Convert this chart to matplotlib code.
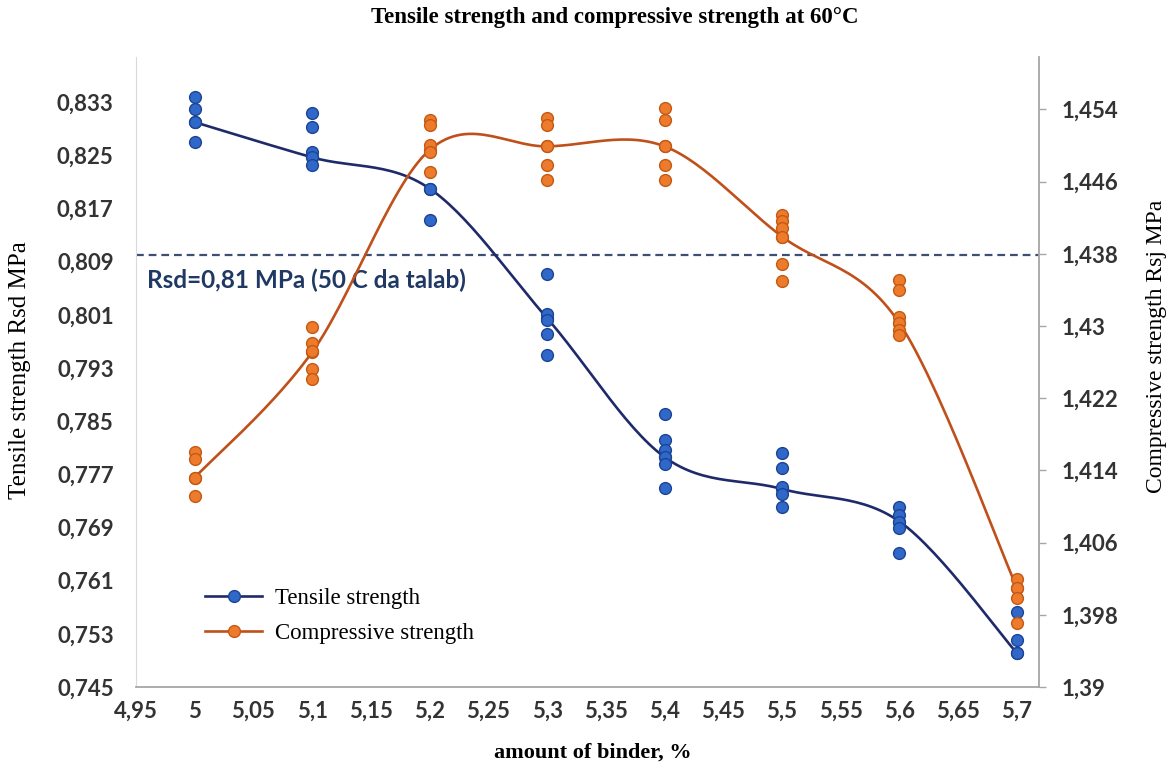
import numpy as np
import matplotlib.pyplot as plt
from matplotlib.ticker import FixedLocator, FuncFormatter

binder = [5.0, 5.1, 5.2, 5.3, 5.4, 5.5, 5.6, 5.7]

# mean values, the smoothed lines go through these
tensile_mean = [0.8300, 0.8247, 0.8200, 0.8005, 0.7796, 0.7748, 0.7699, 0.7501]
compress_mean = [1.4132, 1.4271, 1.4495, 1.4499, 1.4499, 1.4399, 1.4303, 1.4010]

# individual test results for each binder amount
tensile_tests = [
    [0.8338, 0.8320, 0.8300, 0.8270],
    [0.8313, 0.8293, 0.8255, 0.8247, 0.8235],
    [0.8200, 0.8152],
    [0.8071, 0.8012, 0.8002, 0.7981, 0.7949],
    [0.7861, 0.7821, 0.7806, 0.7796, 0.7786, 0.7749],
    [0.7802, 0.7780, 0.7751, 0.7741, 0.7721],
    [0.7721, 0.7709, 0.7699, 0.7689, 0.7651],
    [0.7563, 0.7521, 0.7501],
]
compress_tests = [
    [1.4160, 1.4153, 1.4132, 1.4112],
    [1.4299, 1.4281, 1.4272, 1.4252, 1.4241],
    [1.4528, 1.4523, 1.4501, 1.4493, 1.4471],
    [1.4530, 1.4523, 1.4499, 1.4478, 1.4462],
    [1.4541, 1.4528, 1.4499, 1.4478, 1.4462],
    [1.4423, 1.4416, 1.4408, 1.4399, 1.4369, 1.4350],
    [1.4351, 1.4340, 1.4310, 1.4303, 1.4296, 1.4290],
    [1.4020, 1.4010, 1.3999, 1.3971],
]

rsd_required = 0.81
rsd_text = "Rsd=0,81 MPa (50 C da talab)"

x_ticks = [4.95, 5.0, 5.05, 5.1, 5.15, 5.2, 5.25, 5.3, 5.35, 5.4, 5.45, 5.5, 5.55, 5.6, 5.65, 5.7]
left_ticks = [0.745, 0.753, 0.761, 0.769, 0.777, 0.785, 0.793, 0.801, 0.809, 0.817, 0.825, 0.833]
right_ticks = [1.39, 1.398, 1.406, 1.414, 1.422, 1.43, 1.438, 1.446, 1.454]

NAVY = '#1f2a6b'
BLUE = '#2f68c8'
BLUE_EDGE = '#1d4494'
ORANGE_LINE = '#c0501a'
ORANGE = '#ee7a2c'
ORANGE_EDGE = '#c25a14'
SERIF = ['Liberation Serif', 'DejaVu Serif']
TICKFONT = ['Lato', 'DejaVu Sans']


def smooth(xs, ys, n=30):
    # Catmull-Rom curve through the points, end points repeated
    p = np.column_stack([xs, ys]).astype(float)
    p = np.vstack([p[0], p, p[-1]])
    t = np.linspace(0, 1, n, endpoint=False)[:, None]
    out = []
    for i in range(1, len(p) - 2):
        p0, p1, p2, p3 = p[i - 1], p[i], p[i + 1], p[i + 2]
        seg = 0.5 * (2 * p1 + (p2 - p0) * t
                     + (2 * p0 - 5 * p1 + 4 * p2 - p3) * t ** 2
                     + (3 * p1 - p0 - 3 * p2 + p3) * t ** 3)
        out.append(seg)
    out.append(p[-2][None, :])
    out = np.vstack(out)
    marks = list(range(0, n * (len(xs) - 1) + 1, n))
    return out[:, 0], out[:, 1], marks


def comma(v, pos):
    s = f"{v:.3f}".rstrip('0').rstrip('.')
    return s.replace('.', ',')


fig = plt.figure(figsize=(11.71, 7.69), dpi=100)
ax = fig.add_axes([0.1161, 0.1066, 0.7714, 0.8193])
ax2 = ax.twinx()

# tensile strength, left axis
tx, ty, tm = smooth(binder, tensile_mean)
l1, = ax.plot(tx, ty, color=NAVY, lw=1.9, marker='o', markevery=tm, ms=8.5,
              mfc=BLUE, mec=BLUE_EDGE, mew=1, label='Tensile strength', zorder=3)
for xv, vals in zip(binder, tensile_tests):
    ax.plot([xv] * len(vals), vals, 'o', ms=8.5, mfc=BLUE, mec=BLUE_EDGE, mew=1, zorder=4)

ax.axhline(rsd_required, color='#3d4f73', lw=1.6, dashes=(3.5, 2.2), zorder=2)
ax.annotate(rsd_text, xy=(4.9595, rsd_required), xytext=(0, -18), textcoords='offset points',
            ha='left', va='center', fontsize=17.5, color='#1f3864', fontweight='bold',
            family=TICKFONT)

# compressive strength, right axis
cx, cy, cm = smooth(binder, compress_mean)
l2, = ax2.plot(cx, cy, color=ORANGE_LINE, lw=1.9, marker='o', markevery=cm, ms=8.5,
               mfc=ORANGE, mec=ORANGE_EDGE, mew=1, label='Compressive strength', zorder=3)
for xv, vals in zip(binder, compress_tests):
    ax2.plot([xv] * len(vals), vals, 'o', ms=8.5, mfc=ORANGE, mec=ORANGE_EDGE, mew=1, zorder=4)

ax.set_xlim(4.95, 5.719)
ax.set_ylim(0.745, 0.8398)
ax2.set_ylim(1.39, 1.4598)

ax.xaxis.set_major_locator(FixedLocator(x_ticks))
ax.yaxis.set_major_locator(FixedLocator(left_ticks))
ax2.yaxis.set_major_locator(FixedLocator(right_ticks))
for a in (ax.xaxis, ax.yaxis, ax2.yaxis):
    a.set_major_formatter(FuncFormatter(comma))

ax.tick_params(axis='x', length=0, pad=10, labelsize=16, labelcolor='#333333')
ax.tick_params(axis='y', length=0, pad=16, labelsize=16, labelcolor='#333333')
ax2.tick_params(axis='y', length=5, width=1, color='#a6a6a6', pad=11, labelsize=16,
                labelcolor='#333333')
for lab in ax.get_xticklabels() + ax.get_yticklabels() + ax2.get_yticklabels():
    lab.set_family(TICKFONT)
    lab.set_fontweight('bold')

for a in (ax, ax2):
    a.spines['top'].set_visible(False)
ax.spines['right'].set_visible(False)
ax2.spines['left'].set_visible(False)
ax2.spines['bottom'].set_visible(False)
ax.spines['left'].set_color('#dadada')
ax.spines['bottom'].set_color('#a6a6a6')
ax2.spines['right'].set_color('#a6a6a6')
ax.spines['bottom'].set_linewidth(1.3)
ax2.spines['right'].set_linewidth(1.3)

ax2.legend(handles=[l1, l2], loc='center left', bbox_to_anchor=(0.0764, 0.113),
           frameon=False, borderpad=0, borderaxespad=0, handlelength=2.5,
           handletextpad=0.55, labelspacing=0.6, prop={'family': SERIF, 'size': 16.5})

fig.text(0.525, 0.977, 'Tensile strength and compressive strength at 60°C',
         ha='center', va='center', fontsize=16.5, fontweight='bold', family=SERIF)
fig.text(0.506, 0.021, 'amount of binder, %', ha='center', va='center',
         fontsize=16, fontweight='bold', family=SERIF)
fig.text(0.017, 0.519, 'Tensile strength Rsd MPa', ha='center', va='center',
         rotation=90, fontsize=18, family=SERIF)
fig.text(0.988, 0.549, 'Compressive strength Rsj MPa', ha='center', va='center',
         rotation=90, fontsize=17, family=SERIF)

fig.savefig('out.png', dpi=100)
